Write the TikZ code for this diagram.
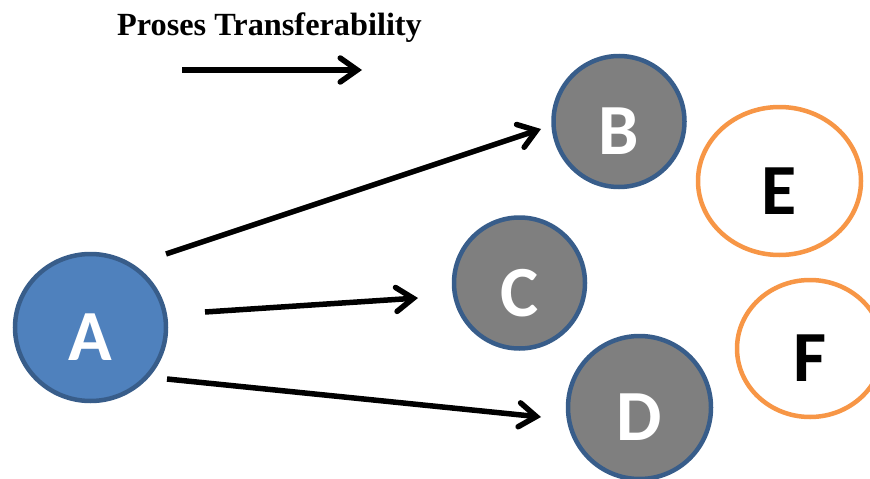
\documentclass[tikz,border=0pt]{standalone}
\usepackage{fontspec}
\setmainfont{Liberation Serif}
\newfontfamily\letterfont{Carlito}
\usetikzlibrary{arrows.meta,shapes.geometric,calc}

\definecolor{nodeblue}{HTML}{4F81BD}
\definecolor{borderblue}{HTML}{385D8A}
\definecolor{nodegray}{HTML}{7F7F7F}
\definecolor{borderorange}{HTML}{F79646}

\begin{document}
\begin{tikzpicture}[x=1pt,y=-1pt,
			>={Straight Barb[length=17pt,width=24pt,line cap=round]},
			link/.style={->,line width=5.5pt},
			letter/.style={font=\letterfont\bfseries\fontsize{72}{72}\selectfont,text height=66pt,text depth=0pt},
			source node/.style={ellipse,draw=borderblue,line width=4.5pt,fill=nodeblue,text=white,letter,minimum width=151pt,minimum height=147pt},
			target node/.style={circle,draw=borderblue,line width=4.5pt,fill=nodegray,text=white,letter},
			outer node/.style={ellipse,draw=borderorange,line width=4.5pt,fill=white,text=black,letter}
			]

			\useasboundingbox (0,0) rectangle (870,479);

			% title and its arrow
			\node[anchor=base,font=\bfseries\fontsize{32.3}{32.3}\selectfont] (title) at (269.5,35) {Proses Transferability};
			\coordinate (t0) at (182,70);
			\coordinate (t1) at (362,70);
			\draw[link] (t0) -- (t1);

			\node[source node] at (90.5,327.5) (A) {A};
			\node[target node,minimum size=131pt] at (619,121.5) (B) {B};
			\node[target node,minimum size=131pt] at (519.5,283) (C) {C};
			\node[target node,minimum size=143pt] at (639.5,407.5) (D) {D};
			\node[outer node,minimum width=163pt,minimum height=148pt] at (779.5,181) (E) {E};
			\node[outer node,minimum width=146pt,minimum height=137pt] at (810,348.5) (F) {F};

			% arrows leave a gap to the nodes
			\coordinate (ab0) at ($(A)+(75.5,-73.5)$);
			\coordinate (ab1) at ($(B)+(-78,7.5)$);
			\coordinate (ac0) at ($(A)+(114.5,-15.5)$);
			\coordinate (ac1) at ($(C)+(-101.5,15)$);
			\coordinate (ad0) at ($(A)+(76.5,51.5)$);
			\coordinate (ad1) at ($(D)+(-98.5,9.5)$);

			\draw[link] (ab0) -- (ab1);
			\draw[link] (ac0) -- (ac1);
			\draw[link] (ad0) -- (ad1);
		\end{tikzpicture}
\end{document}
